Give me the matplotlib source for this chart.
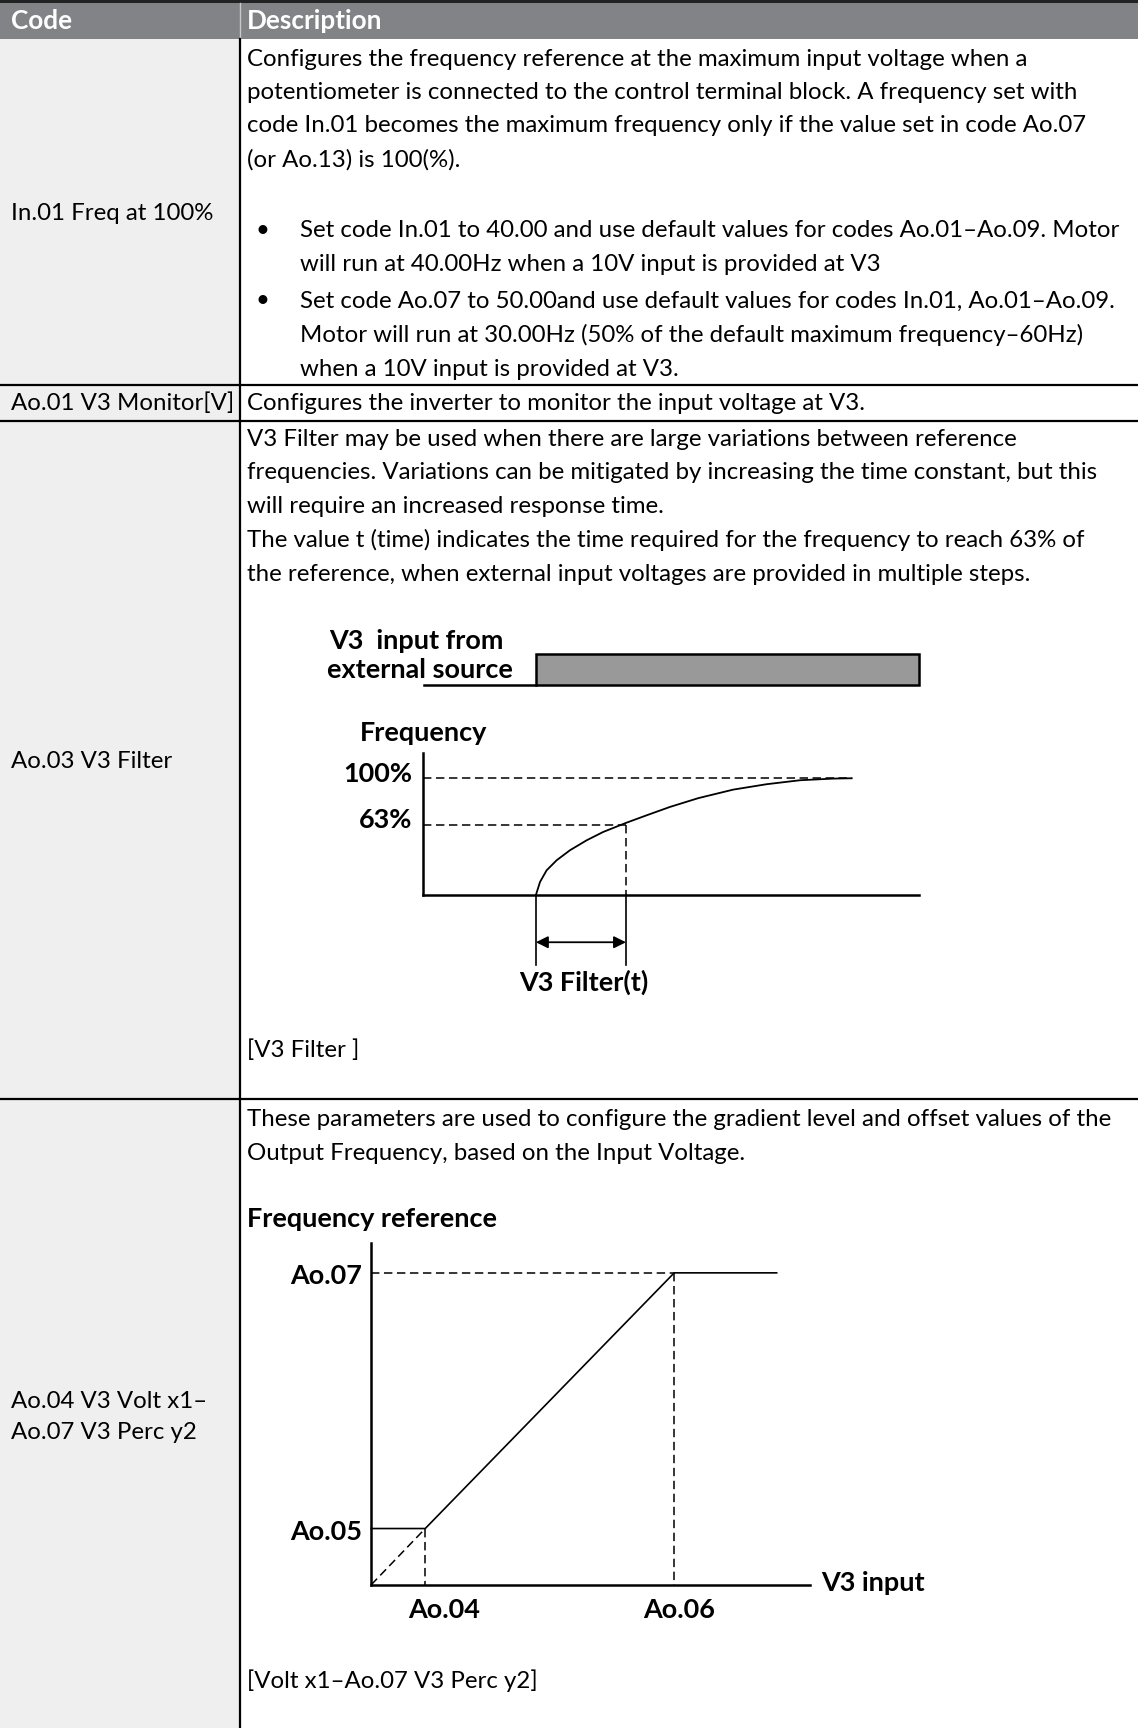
import numpy as np
import matplotlib
matplotlib.use("Agg")
import matplotlib.pyplot as plt

plt.rcParams['font.family'] = ['Lato', 'DejaVu Sans']

# page is laid out in a 1033 x 1568 grid (scaled to 1138 x 1728 px)
W, H = 1033, 1568
S = 1138 / W

header = ["Code", "Description"]
row_lines = [349.5, 382, 997]
col_x = 217.5

codes = ["In.01 Freq at 100%", "Ao.01 V3 Monitor[V]", "Ao.03 V3 Filter",
         "Ao.04 V3 Volt x1–\nAo.07 V3 Perc y2"]
code_y = [194, 366, 691, 1286]

in01_text = [
    "Configures the frequency reference at the maximum input voltage when a",
    "potentiometer is connected to the control terminal block. A frequency set with",
    "code In.01 becomes the maximum frequency only if the value set in code Ao.07",
    "(or Ao.13) is 100(%).",
]
in01_y = [54, 84, 114, 145]
bullets = [
    ["Set code In.01 to 40.00 and use default values for codes Ao.01–Ao.09. Motor",
     "will run at 40.00Hz when a 10V input is provided at V3"],
    ["Set code Ao.07 to 50.00and use default values for codes In.01, Ao.01–Ao.09.",
     "Motor will run at 30.00Hz (50% of the default maximum frequency–60Hz)",
     "when a 10V input is provided at V3."],
]
bullet_y = [[209, 240], [273, 304, 335]]

ao01_text = "Configures the inverter to monitor the input voltage at V3."

ao03_text = [
    "V3 Filter may be used when there are large variations between reference",
    "frequencies. Variations can be mitigated by increasing the time constant, but this",
    "will require an increased response time.",
    "The value t (time) indicates the time required for the frequency to reach 63% of",
    "the reference, when external input voltages are provided in multiple steps.",
]
ao03_y = [399, 429, 460, 490, 521]

# filter diagram
curve_x = [486.5, 490.2, 496.2, 505.3, 517.4, 532.5, 547.6, 568.2, 587.0, 608.2,
           634.0, 665.6, 695.9, 726.2, 756.4, 773.1]
curve_y = [812.0, 800.3, 789.7, 780.6, 771.5, 762.5, 754.9, 746.7, 739.8, 732.2,
           724.2, 716.5, 711.6, 708.0, 706.5, 706.2]
level_labels = ["100%", "63%"]
level_y = [706.3, 748.5]
t_start, t_63 = 486.5, 568.2
base_y = 812

ao04_text = [
    "These parameters are used to configure the gradient level and offset values of the",
    "Output Frequency, based on the Input Voltage.",
]
ao04_y = [1016, 1047]

# gain/offset diagram
x_labels = ["Ao.04", "Ao.06"]
x_pos = [386, 612]
y_labels = ["Ao.05", "Ao.07"]
y_pos = [1387, 1155]
x_origin, y_origin = 337, 1438

DASH = (5.5, 3)

fig = plt.figure(figsize=(11.38, 17.28), dpi=100)
ax = fig.add_axes([0, 0, 1, 1])
ax.set_xlim(0, W)
ax.set_ylim(H, 0)
ax.axis('off')


def fit_size(s, width, weight='normal'):
    # font size that makes string s as wide as in the reference
    t = ax.text(0, 0, s, fontsize=20, fontweight=weight)
    fig.canvas.draw()
    w = t.get_window_extent().width
    t.remove()
    return 20 * width * S / w


fs = min(fit_size(in01_text[0], 731), fit_size(ao04_text[0], 799),
         fit_size(ao03_text[1], 791), fit_size(bullets[0][0], 742))
fs_d = np.median([fit_size("V3 Filter(t)", 113, 'bold'),
                  fit_size("Frequency reference", 226, 'bold'),
                  fit_size("external source", 169, 'bold'),
                  fit_size("Frequency", 116, 'bold')])
fs_h = fit_size("Description", 123, 'bold')

# table background
ax.add_patch(plt.Rectangle((0, 35), col_x, H - 35, color='#efefef', lw=0))
ax.add_patch(plt.Rectangle((0, 0), W, 35, color='#828386', lw=0))
ax.plot([0, W], [1.3, 1.3], color='#222222', lw=2.2)
ax.plot([col_x, col_x], [3, 35], color='#c8c8c8', lw=1)
ax.plot([col_x, col_x], [35, H], color='black', lw=1.6)
for y in row_lines:
    ax.plot([0, W], [y, y], color='black', lw=1.6)

ax.text(10, 19, header[0], fontsize=fs_h, fontweight='bold', color='white', va='center')
ax.text(224, 19, header[1], fontsize=fs_h, fontweight='bold', color='white', va='center')

for c, y in zip(codes, code_y):
    ax.text(10, y, c, fontsize=fs, va='center', linespacing=1.6)

for t, y in zip(in01_text, in01_y):
    ax.text(224, y, t, fontsize=fs, va='center')
for lines, ys in zip(bullets, bullet_y):
    ax.text(232, ys[0], "•", fontsize=fs, va='center')
    for t, y in zip(lines, ys):
        ax.text(272, y, t, fontsize=fs, va='center')

ax.text(224, 366, ao01_text, fontsize=fs, va='center')

for t, y in zip(ao03_text, ao03_y):
    ax.text(224, y, t, fontsize=fs, va='center')

# V3 input step
ax.text(299, 582, "V3  input from", fontsize=fs_d, fontweight='bold', va='center')
ax.text(297, 608, "external source", fontsize=fs_d, fontweight='bold', va='center')
ax.plot([385, t_start], [621.5, 621.5], color='black', lw=1.8)
ax.add_patch(plt.Rectangle((t_start, 593), 834 - t_start, 28.5,
                           facecolor='#999999', edgecolor='black', lw=1.8))

# frequency response
ax.text(327, 665, "Frequency", fontsize=fs_d, fontweight='bold', va='center')
ax.plot([384, 384], [683, base_y], color='black', lw=1.8)
ax.plot([384, 834], [base_y, base_y], color='black', lw=1.8)
for lab, y, xe in zip(level_labels, level_y, [curve_x[-1], t_63]):
    ax.plot([384, xe], [y, y], color='black', lw=1.1, dashes=DASH)
    ax.text(374, y - 4, lab, fontsize=fs_d, fontweight='bold', va='center', ha='right')
ax.plot([t_63, t_63], [level_y[1], base_y], color='black', lw=1.1, dashes=DASH)
ax.plot(curve_x, curve_y, color='black', lw=1.3, solid_joinstyle='round')
ax.plot([t_start, t_start], [base_y, 876], color='black', lw=1.2)
ax.plot([t_63, t_63], [base_y, 876], color='black', lw=1.2)
ax.annotate("", xy=(t_start, 855), xytext=(t_63, 855),
            arrowprops=dict(arrowstyle='<|-|>', color='black', lw=1.3, mutation_scale=18,
                            shrinkA=0, shrinkB=0))
ax.text(529.5, 891, "V3 Filter(t)", fontsize=fs_d, fontweight='bold', va='center', ha='center')
ax.text(224, 953, "[V3 Filter ]", fontsize=fs, va='center')

# gain / offset
for t, y in zip(ao04_text, ao04_y):
    ax.text(224, y, t, fontsize=fs, va='center')
ax.text(224, 1106, "Frequency reference", fontsize=fs_d, fontweight='bold', va='center')
ax.plot([x_origin, x_origin], [1128, y_origin], color='black', lw=1.8)
ax.plot([x_origin, 735], [y_origin, y_origin], color='black', lw=1.8)
ax.text(745, 1436, "V3 input", fontsize=fs_d, fontweight='bold', va='center')
ax.plot([x_origin, x_pos[0], x_pos[1], 705], [y_pos[0], y_pos[0], y_pos[1], y_pos[1]],
        color='black', lw=1.2)
ax.plot([x_origin, x_pos[1]], [y_pos[1], y_pos[1]], color='black', lw=1.1, dashes=DASH)
ax.plot([x_origin, x_pos[0]], [y_origin, y_pos[0]], color='black', lw=1.1, dashes=DASH)
for xp, yp in zip(x_pos, y_pos):
    ax.plot([xp, xp], [yp, y_origin], color='black', lw=1.1, dashes=DASH)
for lab, xp in zip(x_labels, x_pos):
    ax.text(xp + 17 if lab == "Ao.04" else xp + 4, 1461, lab, fontsize=fs_d,
            fontweight='bold', va='center', ha='center')
for lab, yp in zip(y_labels, y_pos):
    ax.text(329, yp + 3, lab, fontsize=fs_d, fontweight='bold', va='center', ha='right')
ax.text(224, 1525, "[Volt x1–Ao.07 V3 Perc y2]", fontsize=fs, va='center')

fig.savefig("out.png", dpi=100)
